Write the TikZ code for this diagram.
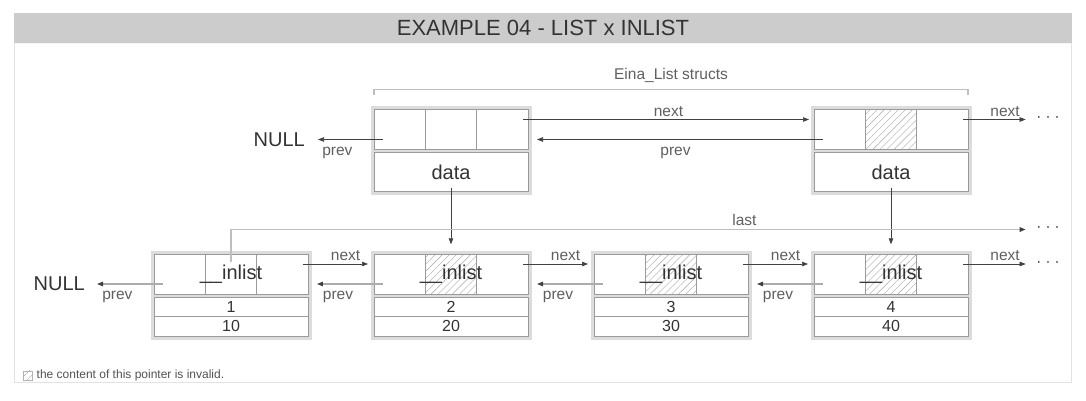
\documentclass[tikz,border=0pt]{standalone}
\usepackage{fontspec}
\setmainfont{Liberation Sans}
\usepackage{tikz}
\usetikzlibrary{arrows.meta, positioning, calc, fit, backgrounds, patterns.meta}
\usepackage{xcolor}
\definecolor{listtext}{RGB}{51,51,51}
\definecolor{listlabel}{RGB}{95,95,95}
\definecolor{cellgray}{RGB}{155,155,155}
\definecolor{boxgray}{RGB}{220,220,220}
\definecolor{titlegray}{RGB}{204,204,204}

\begin{document}
\begin{tikzpicture}[
  x=1pt, y=-1pt,
  ptr/.style={rectangle, draw=cellgray, fill=white, line width=0.7pt,
    minimum width=51.33pt, minimum height=40pt, inner sep=0pt, outer sep=0pt},
  invalid/.style={preaction={fill=white},
    pattern={Lines[angle=45, distance=5pt, line width=0.4pt]}, pattern color=gray!70},
  valcell/.style={rectangle, draw=cellgray, fill=white, line width=0.7pt,
    minimum width=154pt, minimum height=19.5pt, inner sep=0pt, outer sep=0pt,
    font=\fontsize{16}{16}\selectfont, text=listtext},
  datacell/.style={valcell, minimum height=39pt, font=\fontsize{20}{20}\selectfont},
  outer/.style={rectangle, fill=boxgray, draw=none, inner sep=3.5pt},
  bigtxt/.style={font=\fontsize{20}{20}\selectfont, text=listtext, inner sep=2pt},
  lbl/.style={font=\fontsize{15.5}{16}\selectfont, text=listlabel, inner sep=1pt},
  dots/.style={font=\fontsize{15}{15}\selectfont, text=listtext, inner sep=3pt},
  titlebar/.style={rectangle, fill=titlegray, minimum width=1058pt, minimum height=30pt,
    font=\fontsize{22}{22}\selectfont, text=listtext},
  arrow/.style={-{Triangle[length=6pt, width=4.5pt]}, line width=0.6pt, draw=black!75},
  backarrow/.style={-{Triangle[length=6pt, width=4.5pt, color=black!75]},
    line width=1.2pt, draw=gray!65},
  lastline/.style={-{Triangle[length=6pt, width=4.5pt, color=black!75]},
    line width=1.6pt, draw=gray!50},
  bracket/.style={draw=gray!50, line width=1.4pt}
]
\useasboundingbox (0,0) rectangle (1086,400);

% Title and frame
\node[titlebar] (title) at (543,28) {EXAMPLE 04 - LIST x INLIST};
\draw[gray!8, line width=1pt] ([yshift=-0.5pt]title.south west) -- ([yshift=-0.5pt]title.south east);
\draw[gray!22, line width=1pt] ([xshift=1pt]title.south west) -- ++(0,339) -| ([xshift=-1pt]title.south east);

% Eina_List structs
\node[ptr] (t1m) at (451,129.5) {};
\node[ptr, left=0pt of t1m] (t1l) {};
\node[ptr, right=0pt of t1m] (t1r) {};
\node[datacell, below=3pt of t1m] (t1d) {data};

\node[ptr, invalid] (t2m) at (891,129.5) {};
\node[ptr, left=0pt of t2m] (t2l) {};
\node[ptr, right=0pt of t2m] (t2r) {};
\node[datacell, below=3pt of t2m] (t2d) {data};

% Inlist nodes
\node[ptr] (b1m) at (231,274) {};
\node[ptr, left=0pt of b1m] (b1l) {};
\node[ptr, right=0pt of b1m] (b1r) {};
\node[valcell, below=3pt of b1m] (b1n) {1};
\node[valcell, below=0pt of b1n] (b1v) {10};
\node[bigtxt] (b1t) at (b1m) {\_\_inlist};

\node[ptr, invalid] (b2m) at (451,274) {};
\node[ptr, left=0pt of b2m] (b2l) {};
\node[ptr, right=0pt of b2m] (b2r) {};
\node[valcell, below=3pt of b2m] (b2n) {2};
\node[valcell, below=0pt of b2n] (b2v) {20};
\node[bigtxt] (b2t) at (b2m) {\_\_inlist};

\node[ptr, invalid] (b3m) at (671,274) {};
\node[ptr, left=0pt of b3m] (b3l) {};
\node[ptr, right=0pt of b3m] (b3r) {};
\node[valcell, below=3pt of b3m] (b3n) {3};
\node[valcell, below=0pt of b3n] (b3v) {30};
\node[bigtxt] (b3t) at (b3m) {\_\_inlist};

\node[ptr, invalid] (b4m) at (891,274) {};
\node[ptr, left=0pt of b4m] (b4l) {};
\node[ptr, right=0pt of b4m] (b4r) {};
\node[valcell, below=3pt of b4m] (b4n) {4};
\node[valcell, below=0pt of b4n] (b4v) {40};
\node[bigtxt] (b4t) at (b4m) {\_\_inlist};

% Grey frames behind the structs
\begin{scope}[on background layer]
  \node[outer, fit=(t1l)(t1r)(t1d)] (t1) {};
  \node[outer, fit=(t2l)(t2r)(t2d)] (t2) {};
  \node[outer, fit=(b1l)(b1r)(b1v)] (b1) {};
  \node[outer, fit=(b2l)(b2r)(b2v)] (b2) {};
  \node[outer, fit=(b3l)(b3r)(b3v)] (b3) {};
  \node[outer, fit=(b4l)(b4r)(b4v)] (b4) {};
\end{scope}

% Ends of the lists
\node[bigtxt, left=67pt of t1l, yshift=-10pt] (nullt) {NULL};
\node[bigtxt, left=67pt of b1l, yshift=-10pt] (nullb) {NULL};
\node[dots] (dotst) at (1048,119.5) {· · ·};
\node[dots] (dotsl) at (1048,229.5) {· · ·};
\node[dots] (dotsb) at (1048,264) {· · ·};

% Bracket
\draw[bracket] ([yshift=15pt]t1l.north west) -- ([yshift=20pt]t1l.north west)
  -- node[lbl, above=5pt] (structs) {Eina\_List structs} ([yshift=20pt]t2r.north east)
  -- ([yshift=15pt]t2r.north east);

% Top row pointers
\draw[arrow] ([xshift=-5pt,yshift=10pt]t1r.east) -- node[lbl, above=2pt] {next}
  ([yshift=10pt]t2l.west) [shorten >=5pt];
\draw[arrow] ([xshift=9pt,yshift=-10pt]t2l.west) -- node[lbl, below=6pt] {prev}
  ([yshift=-10pt]t1r.east) [shorten >=9pt];
\draw[arrow, shorten >=11pt] ([xshift=9pt,yshift=-10pt]t1l.west) -- node[lbl, pos=0.6, below=6pt] {prev} (nullt);
\draw[arrow, shorten >=7.5pt] ([xshift=-5pt,yshift=10pt]t2r.east) -- node[lbl, pos=0.6, above=2pt] {next} (dotst);

% data pointers
\draw[arrow] ([yshift=4pt]t1d.south) -- ([yshift=6pt]b2.north);
\draw[arrow] ([yshift=4pt]t2d.south) -- ([yshift=6pt]b4.north);

% last
\draw[lastline, shorten >=7.5pt] ([yshift=-8pt]b1m.north) |- node[lbl, pos=0.82, above=2pt] {last} (dotsl);

% Bottom row pointers
\draw[arrow, shorten >=6pt] ([xshift=-5pt,yshift=10pt]b1r.east) -- node[lbl, pos=0.6, above=2pt] {next} ([yshift=10pt]b2l.west);
\draw[arrow, shorten >=6pt] ([xshift=-5pt,yshift=10pt]b2r.east) -- node[lbl, pos=0.6, above=2pt] {next} ([yshift=10pt]b3l.west);
\draw[arrow, shorten >=6pt] ([xshift=-5pt,yshift=10pt]b3r.east) -- node[lbl, pos=0.6, above=2pt] {next} ([yshift=10pt]b4l.west);
\draw[arrow, shorten >=7.5pt] ([xshift=-5pt,yshift=10pt]b4r.east) -- node[lbl, pos=0.6, above=2pt] {next} (dotsb);

\draw[backarrow, shorten >=10pt] ([xshift=9pt,yshift=-10pt]b1l.west) -- node[lbl, pos=0.6, below=6pt] {prev} (nullb);
\draw[backarrow, shorten >=9pt] ([xshift=9pt,yshift=-10pt]b2l.west) -- node[lbl, pos=0.6, below=6pt] {prev} ([yshift=-10pt]b1r.east);
\draw[backarrow, shorten >=9pt] ([xshift=9pt,yshift=-10pt]b3l.west) -- node[lbl, pos=0.6, below=6pt] {prev} ([yshift=-10pt]b2r.east);
\draw[backarrow, shorten >=9pt] ([xshift=9pt,yshift=-10pt]b4l.west) -- node[lbl, pos=0.6, below=6pt] {prev} ([yshift=-10pt]b3r.east);

% Legend
\node[invalid, draw=gray!60, line width=0.5pt, minimum size=9.5pt, inner sep=0pt] (key) at (27.5,375.5) {};
\node[right=3pt of key, inner sep=1pt, font=\fontsize{12}{12}\selectfont, text=listtext!85] (keytxt) {the content of this pointer is invalid.};
\end{tikzpicture}
\end{document}
